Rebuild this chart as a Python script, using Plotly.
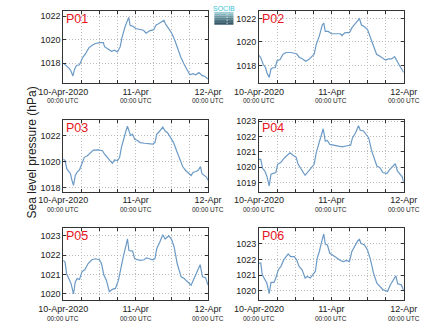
import plotly.graph_objects as go

# ---------------- data ----------------
panel_names = ["P01", "P02", "P03", "P04", "P05", "P06"]

p01_hours = [0, 1, 2, 2.6, 3.2, 3.8, 4.4, 5.4, 6.4, 7.4, 8.5, 9.5, 10.5, 12, 13.3, 13.7, 15, 16, 17, 18, 18.9,
             19.5, 20.5, 21.5, 21.7, 22.2, 23, 24, 25, 26.6, 27.5, 28.6, 30, 30.8, 31.6, 32.6, 33.4, 34, 35, 36,
             37, 38, 39, 40, 41, 42, 43, 44, 45, 46, 47, 48]
p01_hpa = [1018.0, 1017.8, 1017.55, 1017.3, 1016.9, 1017.5, 1017.8, 1017.85, 1018.45, 1018.8, 1019.3, 1019.5,
           1019.65, 1019.75, 1019.75, 1019.4, 1019.15, 1019.0, 1019.1, 1018.95, 1019.4, 1020.2, 1021.1, 1021.8,
           1021.9, 1021.2, 1021.15, 1020.95, 1020.9, 1020.8, 1020.55, 1020.75, 1020.85, 1021.25, 1021.35, 1021.5,
           1021.65, 1021.3, 1020.95, 1020.55, 1019.95, 1019.2, 1018.5, 1017.95, 1017.4, 1017.0, 1017.1, 1017.0,
           1017.2, 1016.95, 1016.85, 1016.65]

p02_hours = [0, 0.6, 1.4, 2.2, 2.6, 3.4, 4, 4.6, 5.4, 6, 7, 8, 9, 10.5, 12.5, 13.3, 14.5, 15.5, 16.5, 17.5, 18.3,
             19, 20, 21, 21.5, 22, 23, 24, 25.6, 27, 27.5, 28.6, 30, 30.8, 31.6, 32.6, 33.3, 34, 35, 36, 37, 38,
             39, 40, 41, 42, 43, 44, 45, 45.9, 46.7, 47.7, 48]
p02_hpa = [1018.85, 1018.65, 1018.1, 1017.8, 1017.4, 1016.98, 1017.7, 1017.8, 1017.8, 1018.4, 1018.5, 1018.95,
           1019.1, 1019.1, 1019.0, 1018.7, 1018.55, 1018.35, 1018.5, 1018.8, 1018.95, 1019.8, 1020.5, 1021.45,
           1021.6, 1020.9, 1020.9, 1020.7, 1020.7, 1020.7, 1020.55, 1020.8, 1020.8, 1021.2, 1021.45, 1021.75,
           1022.0, 1021.45, 1021.3, 1021.05, 1020.35, 1019.65, 1018.95, 1018.8, 1018.65, 1018.45, 1018.55,
           1018.55, 1018.75, 1018.25, 1017.95, 1017.55, 1017.4]

p03_hours = [0, 0.6, 1.2, 1.9, 2.4, 2.9, 3.4, 4, 4.6, 5.4, 6.2, 7, 8, 9, 10, 11.5, 13, 13.7, 14.5, 15.5, 16.3, 17,
             18, 18.7, 19.3, 20, 20.8, 21.3, 21.7, 22.3, 23, 23.7, 24.5, 25.5, 27, 28.6, 29.6, 30.4, 31, 32, 33,
             33.8, 34.6, 35.6, 36.6, 37.6, 38.6, 39.6, 40.6, 41.6, 42.4, 43.1, 44.1, 44.9, 45.5, 46, 46.9, 47.5, 48]
p03_hpa = [1020.2, 1020.08, 1019.45, 1019.25, 1019.08, 1018.58, 1018.2, 1018.95, 1019.2, 1019.38, 1019.83,
           1020.33, 1020.45, 1020.7, 1020.88, 1020.9, 1020.83, 1020.58, 1020.33, 1020.08, 1019.88, 1020.13,
           1020.08, 1020.33, 1021.08, 1021.58, 1022.33, 1022.7, 1022.33, 1022.0, 1022.08, 1021.7, 1021.63,
           1021.45, 1021.4, 1021.33, 1021.33, 1021.45, 1022.08, 1022.33, 1022.63, 1022.33, 1022.2, 1021.83,
           1021.45, 1020.83, 1020.2, 1019.63, 1019.33, 1019.13, 1018.95, 1019.2, 1019.25, 1019.38, 1019.63,
           1019.08, 1018.95, 1018.83, 1018.58]

p04_hours = [0, 0.6, 1.2, 1.9, 2.6, 3.4, 4, 5, 5.6, 6.2, 7.2, 8.5, 9.5, 10.3, 11.3, 12.3, 13, 14, 15.3, 16.5,
             17.5, 18.3, 19, 20, 20.8, 21.3, 22, 22.7, 23.5, 24.5, 26, 27.6, 29.6, 30.4, 31, 32, 33, 33.6, 34.6,
             35.6, 36.4, 37.4, 38.4, 39.1, 40.1, 41.1, 42.4, 43.4, 44.5, 45.2, 45.9, 46.7, 47.5, 48]
p04_hpa = [1020.5, 1020.5, 1019.92, 1019.75, 1019.42, 1018.77, 1019.53, 1019.57, 1019.64, 1020.18, 1020.29,
           1020.61, 1020.83, 1020.94, 1020.78, 1020.65, 1020.18, 1019.85, 1019.46, 1019.75, 1019.96, 1020.18,
           1020.94, 1021.58, 1022.12, 1022.51, 1021.69, 1021.74, 1021.48, 1021.43, 1021.37, 1021.32, 1021.41,
           1021.43, 1021.91, 1022.23, 1022.71, 1022.41, 1022.38, 1022.12, 1021.91, 1021.04, 1020.5, 1020.07,
           1019.96, 1019.64, 1019.57, 1019.85, 1020.07, 1020.22, 1019.75, 1019.53, 1019.36, 1018.99]

p05_hours = [0, 0.6, 1.1, 1.9, 2.6, 3.4, 4, 4.6, 5.4, 6.2, 7.2, 8.2, 9.5, 10.7, 12, 12.7, 13.5, 14.3, 15.3, 16.3,
             17.3, 18.3, 19, 20, 20.8, 21.3, 21.8, 23, 23.7, 24.5, 25.5, 26.8, 27.6, 28.6, 29.6, 30.4, 31, 32, 33,
             33.8, 35, 36, 36.8, 37.8, 39.1, 40.1, 41.1, 42.4, 43.4, 44.5, 45.4, 46.2, 47.2, 48]
p05_hpa = [1021.73, 1021.64, 1021.04, 1020.78, 1020.52, 1019.98, 1020.61, 1020.78, 1020.73, 1021.13, 1021.25,
           1021.55, 1021.76, 1021.81, 1021.76, 1021.55, 1020.95, 1020.7, 1020.1, 1020.22, 1020.27, 1020.7,
           1021.3, 1021.98, 1022.5, 1022.84, 1022.24, 1022.21, 1021.81, 1021.76, 1021.73, 1021.76, 1021.86,
           1021.81, 1021.76, 1021.81, 1022.33, 1022.67, 1023.06, 1022.84, 1023.01, 1022.79, 1022.41, 1021.55,
           1020.87, 1020.78, 1020.61, 1020.44, 1020.78, 1021.13, 1021.5, 1020.87, 1020.83, 1020.44]

p06_hours = [0, 0.6, 1.1, 1.9, 2.6, 3.4, 4, 5, 5.6, 6.4, 7.4, 8.2, 9, 9.7, 10.5, 11.7, 12.5, 13.3, 14.3, 15.3,
             16, 17, 18, 18.7, 19.3, 20, 20.8, 21.5, 22, 22.7, 23.5, 24.5, 25.5, 27, 28, 29, 30, 30.8, 31.6, 32.6,
             33.3, 33.8, 35, 36, 37, 38, 39.1, 40.1, 41.1, 42.1, 42.6, 43.6, 44.6, 45.4, 46, 47.2, 48]
p06_hpa = [1021.77, 1021.77, 1021.03, 1020.75, 1020.5, 1019.82, 1020.54, 1020.54, 1020.82, 1021.34, 1021.6,
           1021.98, 1022.19, 1022.36, 1022.19, 1022.19, 1021.98, 1021.56, 1021.34, 1020.82, 1020.92, 1020.82,
           1021.07, 1021.24, 1022.08, 1022.5, 1023.14, 1023.63, 1022.99, 1022.93, 1022.4, 1022.3, 1022.15,
           1021.94, 1021.87, 1021.94, 1021.87, 1022.51, 1022.82, 1023.14, 1023.31, 1023.04, 1022.93, 1022.61,
           1021.98, 1021.13, 1020.5, 1020.29, 1020.08, 1020.01, 1019.97, 1020.39, 1020.71, 1020.96, 1020.46,
           1020.39, 1020.03]

panel_hours = [p01_hours, p02_hours, p03_hours, p04_hours, p05_hours, p06_hours]
panel_hpa = [p01_hpa, p02_hpa, p03_hpa, p04_hpa, p05_hpa, p06_hpa]

y_ranges = [[1016.3, 1022.45], [1016.5, 1022.65], [1017.72, 1023.2],
            [1018.39, 1023.11], [1019.65, 1023.4], [1019.4, 1024.0]]
y_ticks = [[1018, 1020, 1022], [1018, 1020, 1022], [1018, 1020, 1022],
           [1019, 1020, 1021, 1022, 1023], [1020, 1021, 1022, 1023], [1020, 1021, 1022, 1023]]

x_tick_hours = [0, 6, 12, 18, 24, 30, 36, 42, 48]
x_tick_dates = ["10-Apr-2020", "", "", "", "11-Apr", "", "", "", "12-Apr"]
x_tick_time = "00:00 UTC"

y_title = "Sea level pressure (hPa)"

# ---------------- layout ----------------
W, H = 435, 327
col_px = [(42, 201), (257, 416)]
row_px = [(8, 81), (118, 191), (228, 301)]

line_color = "#6b9ac6"
font_family = "Liberation Sans, Arial, sans-serif"

fig = go.Figure()
layout = dict(width=W, height=H, margin=dict(l=0, r=0, t=0, b=0),
              paper_bgcolor="white", plot_bgcolor="white", showlegend=False,
              font=dict(family=font_family, size=9, color="#222"))
annotations = []
shapes = []

for i, name in enumerate(panel_names):
    r, c = divmod(i, 2)
    x0, x1 = col_px[c]
    yt, yb = row_px[r]
    xs = "" if i == 0 else str(i + 1)
    fig.add_trace(go.Scatter(x=panel_hours[i], y=panel_hpa[i], mode="lines",
                             line=dict(color=line_color, width=1.2),
                             xaxis="x" + xs, yaxis="y" + xs, hoverinfo="skip"))
    common = dict(showline=True, linecolor="#333", linewidth=1, mirror="ticks",
                  ticks="inside", ticklen=3, tickcolor="#333",
                  showgrid=True, gridcolor="#bdbdbd", griddash="1px,2px", gridwidth=1,
                  zeroline=False, tickfont=dict(size=9, color="#222", family=font_family))
    layout["xaxis" + xs] = dict(common, domain=[x0 / W, x1 / W], anchor="y" + xs,
                                range=[0, 48], tickmode="array", tickvals=x_tick_hours,
                                ticktext=x_tick_dates, ticklabelstandoff=0)
    layout["yaxis" + xs] = dict(common, domain=[1 - yb / H, 1 - yt / H], anchor="x" + xs,
                                range=y_ranges[i], tickmode="array", tickvals=y_ticks[i],
                                ticktext=[str(v) for v in y_ticks[i]])
    annotations.append(dict(text=name, xref="paper", yref="paper", x=(x0 + 1) / W, y=1 - (yt - 1) / H,
                            xanchor="left", yanchor="top", showarrow=False,
                            font=dict(size=12.5, color="#e8141c", family=font_family)))
    # second line of the time tick labels
    for hv, d in zip(x_tick_hours, x_tick_dates):
        if d:
            annotations.append(dict(text=x_tick_time, xref="x" + xs, yref="paper", x=hv,
                                    y=1 - (yb + 18) / H, xanchor="center", yanchor="middle",
                                    showarrow=False, borderpad=0,
                                    font=dict(size=6.5, color="#222", family=font_family)))

annotations.append(dict(text=y_title, xref="paper", yref="paper", x=8 / W, y=1 - 151 / H,
                        xanchor="center", yanchor="middle", textangle=-90, showarrow=False,
                        font=dict(size=12, color="#222", family=font_family)))

# SOCIB logo
annotations.append(dict(text="SOCIB", xref="paper", yref="paper", x=218.5 / W, y=1 - 5.5 / H,
                        xanchor="center", yanchor="middle", showarrow=False, borderpad=0,
                        font=dict(size=7, color="#37c3d6", family=font_family)))
band_cols = ["#9ccbd2", "#86b4bd", "#6f9ca7", "#5b8692", "#4c7380", "#40626f", "#38566a"]
lx0, lx1, ly0, ly1 = 208, 229, 9, 22
nb = len(band_cols)
for k, col in enumerate(band_cols):
    shapes.append(dict(type="rect", xref="paper", yref="paper", x0=lx0 / W, x1=lx1 / W,
                       y0=1 - (ly0 + (k + 1) * (ly1 - ly0) / nb) / H, y1=1 - (ly0 + k * (ly1 - ly0) / nb) / H,
                       fillcolor=col, line=dict(width=0), layer="above"))
shapes.append(dict(type="line", xref="paper", yref="paper", x0=222 / W, x1=222 / W,
                   y0=1 - 21 / H, y1=1 - 11 / H, line=dict(color="white", width=1, dash="1px,2px"),
                   layer="above"))

layout["annotations"] = annotations
layout["shapes"] = shapes
fig.update_layout(**layout)
fig.write_html("out.html")
